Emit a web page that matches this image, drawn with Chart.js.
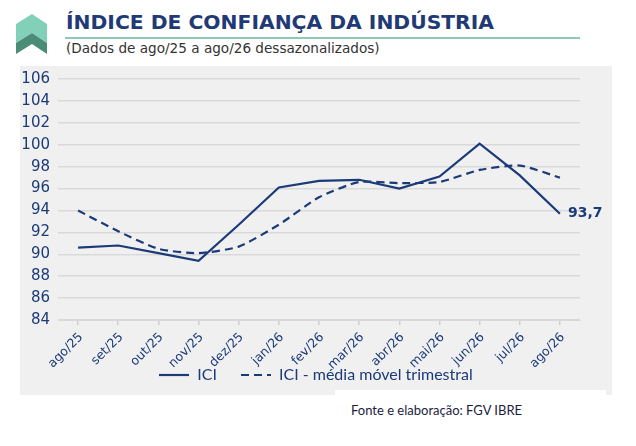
<!DOCTYPE html>
<html lang="pt">

<head>
    <meta charset="UTF-8">
    <title>Índice de Confiança da Indústria</title>
    <script src="https://cdn.jsdelivr.net/npm/chart.js"></script>
    <style>
        body {
            margin: 0;
            width: 636px;
            height: 446px;
            background: #ffffff;
            position: relative;
            overflow: hidden;
            font-family: "DejaVu Sans", sans-serif;
        }

        .icon {
            position: absolute;
            left: 0;
            top: 0;
        }

        .title {
            position: absolute;
            left: 66px;
            top: 10px;
            font-size: 20.3px;
            font-weight: bold;
            color: #1f3a76;
            white-space: nowrap;
        }

        .rule {
            position: absolute;
            left: 65px;
            top: 37px;
            width: 515px;
            height: 2px;
            background: #8ccab6;
        }

        .subtitle {
            position: absolute;
            left: 66px;
            top: 40px;
            font-size: 13.6px;
            color: #333333;
            white-space: nowrap;
        }

        .panel {
            position: absolute;
            left: 20px;
            top: 66px;
            width: 592px;
            height: 329px;
            background: #f0f0f0;
        }

        .notch {
            position: absolute;
            left: 335px;
            top: 390px;
            width: 271px;
            height: 10px;
            background: #ffffff;
        }

        .chart-box {
            position: absolute;
            left: 20px;
            top: 62px;
            width: 592px;
            height: 331px;
        }

        .source {
            position: absolute;
            left: 351px;
            top: 402px;
            font-family: Lato, sans-serif;
            font-size: 13px;
            color: #1c1c40;
        }
    </style>
</head>

<body>
    <svg class="icon" width="60" height="60">
        <polygon points="16,24 32,14 47,24 47,43 32,33 16,43" fill="#82d0b8" />
        <polygon points="16,43 32,33 47,43 47,54 32,44 16,54" fill="#4a8c76" />
    </svg>
    <div class="title">ÍNDICE DE CONFIANÇA DA INDÚSTRIA</div>
    <div class="rule"></div>
    <div class="subtitle">(Dados de ago/25 a ago/26 dessazonalizados)</div>

    <div class="panel"></div>
    <div class="notch"></div>

    <div class="chart-box">
        <canvas id="iciChart"></canvas>
    </div>

    <div class="source">Fonte e elaboração: FGV IBRE</div>

    <script>
        // months shown on the x axis
        const months = ['ago/25', 'set/25', 'out/25', 'nov/25', 'dez/25', 'jan/26', 'fev/26',
            'mar/26', 'abr/26', 'mai/26', 'jun/26', 'jul/26', 'ago/26'];
        // ICI values
        const iciValues = [90.6, 90.8, 90.1, 89.4, 92.7, 96.1, 96.7, 96.8, 96.0, 97.1, 100.1, 97.2, 93.7];
        // three-month moving average
        const movingAvg = [94.0, 92.1, 90.5, 90.1, 90.7, 92.7, 95.2, 96.6, 96.5, 96.6, 97.7, 98.1, 97.0];
        const yTicks = [84, 86, 88, 90, 92, 94, 96, 98, 100, 102, 104, 106];

        const navy = '#1b3a78';

        // little line samples for the legend
        function legendLine(dash) {
            const c = document.createElement('canvas');
            c.width = 30;
            c.height = 4;
            const g = c.getContext('2d');
            g.strokeStyle = navy;
            g.lineWidth = 2.2;
            g.setLineDash(dash);
            g.beginPath();
            g.moveTo(0, 2);
            g.lineTo(30, 2);
            g.stroke();
            return c;
        }

        // writes the last ICI value next to the line
        const lastLabel = {
            id: 'lastLabel',
            afterDatasetsDraw(chart) {
                const meta = chart.getDatasetMeta(0);
                const pt = meta.data[meta.data.length - 1];
                const ctx = chart.ctx;
                ctx.save();
                ctx.font = 'bold 14px "DejaVu Sans"';
                ctx.fillStyle = navy;
                ctx.textBaseline = 'middle';
                ctx.fillText(String(iciValues[iciValues.length - 1]).replace('.', ','), pt.x + 8, pt.y);
                ctx.restore();
            }
        };

        const ctx = document.getElementById('iciChart').getContext('2d');
        new Chart(ctx, {
            type: 'line',
            data: {
                labels: months,
                datasets: [{
                    label: 'ICI',
                    data: iciValues,
                    borderColor: navy,
                    backgroundColor: navy,
                    borderWidth: 2.2,
                    pointRadius: 0,
                    pointStyle: legendLine([]),
                    tension: 0
                }, {
                    label: 'ICI - média móvel trimestral',
                    data: movingAvg,
                    borderColor: navy,
                    backgroundColor: navy,
                    borderWidth: 2.2,
                    borderDash: [8, 5],
                    pointRadius: 0,
                    pointStyle: legendLine([8, 5]),
                    tension: 0.2
                }]
            },
            options: {
                responsive: true,
                maintainAspectRatio: false,
                animation: false,
                layout: {
                    padding: 0
                },
                plugins: {
                    legend: {
                        position: 'bottom',
                        labels: {
                            usePointStyle: true,
                            pointStyleWidth: 30,
                            color: navy,
                            padding: 24,
                            font: { family: 'Lato', size: 16 }
                        }
                    },
                    tooltip: { enabled: false }
                },
                scales: {
                    x: {
                        offset: true,
                        grid: {
                            drawOnChartArea: false,
                            drawTicks: true,
                            tickLength: 5,
                            color: '#cfcfcf',
                            lineWidth: 1.5
                        },
                        border: { color: '#d9d9d9' },
                        afterFit(scale) {
                            // keep the legend tucked under the rotated labels, as in the original
                            scale.height = 23;
                            scale._computeLabelArea = () => undefined;
                        },
                        ticks: {
                            color: navy,
                            font: { family: 'DejaVu Sans', size: 12.5 },
                            minRotation: 45,
                            maxRotation: 45,
                            labelOffset: 3,
                            padding: 5
                        }
                    },
                    y: {
                        min: 84,
                        max: 106,
                        afterBuildTicks(scale) {
                            scale.ticks = yTicks.map(v => ({ value: v }));
                        },
                        afterFit(scale) {
                            scale.width = 38;
                        },
                        grid: { color: '#d9d9d9', lineWidth: 1.5, drawTicks: false },
                        border: { display: false },
                        ticks: {
                            autoSkip: false,
                            color: navy,
                            font: { family: 'DejaVu Sans', size: 15 },
                            padding: 8
                        }
                    },
                    // empty right-hand strip that leaves room for the "93,7" label
                    yRight: {
                        position: 'right',
                        min: 84,
                        max: 106,
                        grid: { display: false },
                        border: { display: false },
                        ticks: { display: false },
                        afterFit(scale) {
                            scale.width = 32;
                        }
                    }
                }
            },
            plugins: [lastLabel]
        });
    </script>

</body>

</html>
